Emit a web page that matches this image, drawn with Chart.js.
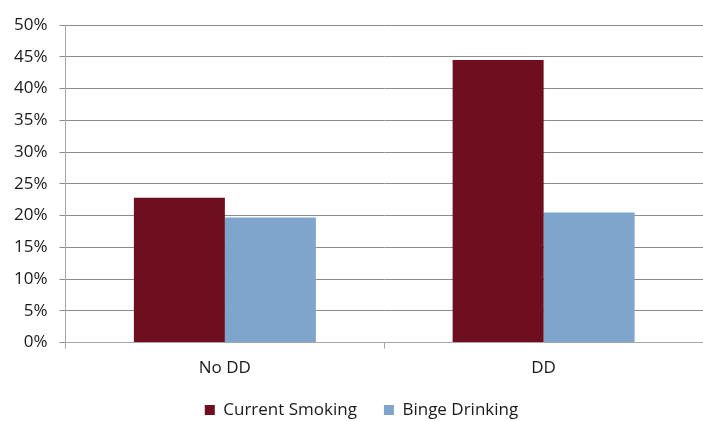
<!DOCTYPE html>
<html>
<head>
<meta charset="utf-8">
<script src="https://cdn.jsdelivr.net/npm/chart.js@4"></script>
<style>
  html, body { margin: 0; padding: 0; background: #fff; }
  #wrap { width: 703px; height: 421px; position: relative; }
</style>
</head>
<body>
<div id="wrap"><canvas id="chart"></canvas></div>
<script>
const categories = ['No DD', 'DD'];
const currentSmoking = [22.8, 44.5];
const bingeDrinking = [19.7, 20.5];
const yTicks = [0, 5, 10, 15, 20, 25, 30, 35, 40, 45, 50];

const font = { family: '"Open Sans", "Noto Sans", sans-serif', size: 17 };

// legend is fitted with a small padding (keeps the plot tall) but drawn with
// a wider gap between items, like the original
const fitPadding = 7;
const drawPadding = 27;
const legendSpacing = {
  id: 'legendSpacing',
  beforeDraw(chart) {
    const lg = chart.legend;
    lg.options.labels.padding = drawPadding;
    lg.top -= (drawPadding - fitPadding) - 7.5;
    lg.left -= 22;
  }
};

const ctx = document.getElementById('chart').getContext('2d');
new Chart(ctx, {
  type: 'bar',
  data: {
    labels: categories,
    datasets: [
      {
        label: 'Current Smoking',
        data: currentSmoking,
        backgroundColor: '#6E0E1E',
        categoryPercentage: 0.571,
        barPercentage: 1.0
      },
      {
        label: 'Binge Drinking',
        data: bingeDrinking,
        backgroundColor: '#7FA5CC',
        categoryPercentage: 0.571,
        barPercentage: 1.0
      }
    ]
  },
  options: {
    responsive: true,
    maintainAspectRatio: false,
    animation: false,
    layout: { padding: { left: 2, right: 0, top: 25, bottom: 0 } },
    plugins: {
      legend: {
        position: 'bottom',
        labels: {
          usePointStyle: true,
          pointStyle: 'rect',
          boxWidth: 10,
          boxHeight: 10,
          padding: fitPadding,
          color: '#1a1a1a',
          font: font
        }
      },
      tooltip: { enabled: false }
    },
    scales: {
      x: {
        grid: {
          display: true,
          drawOnChartArea: false,
          color: '#a6a6a6',
          tickLength: 6,
          offset: true
        },
        border: { color: '#a6a6a6' },
        ticks: { color: '#1a1a1a', font: font, padding: 9 }
      },
      y: {
        min: 0,
        max: 50,
        afterBuildTicks: axis => { axis.ticks = yTicks.map(v => ({ value: v })); },
        grid: { color: '#8c8c8c', tickLength: 6 },
        border: { color: '#a6a6a6' },
        ticks: {
          color: '#1a1a1a',
          font: font,
          padding: 12,
          callback: v => v + '%'
        }
      }
    }
  },
  plugins: [legendSpacing]
});
</script>
</body>
</html>
